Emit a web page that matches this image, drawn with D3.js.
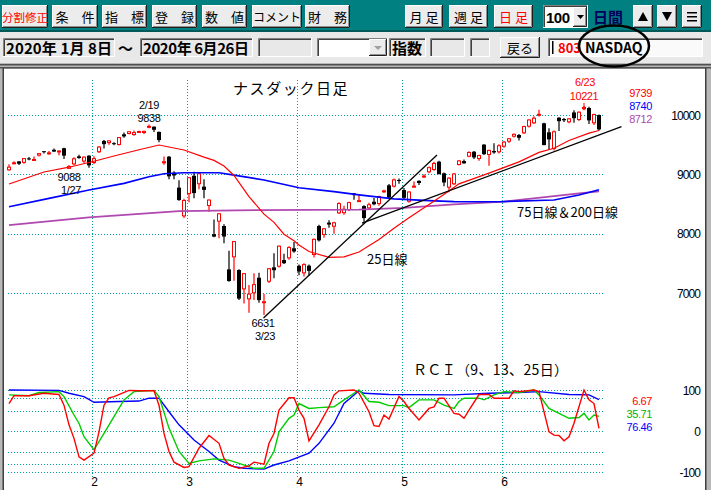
<!DOCTYPE html>
<html>
<head>
<meta charset="utf-8">
<script src="https://cdn.jsdelivr.net/npm/d3@7/dist/d3.min.js"></script>
<style>
  body { margin: 0; background: #fff; }
  svg { display: block; }
</style>
</head>
<body>
<div id="chart"></div>
<script>
// ---- data ----
const dates = [
  '1/8','1/9','1/10','1/13','1/14','1/15','1/16','1/17','1/21','1/22','1/23','1/24','1/27','1/28','1/29','1/30','1/31',
  '2/3','2/4','2/5','2/6','2/7','2/10','2/11','2/12','2/13','2/14','2/18','2/19','2/20','2/21','2/24','2/25','2/26','2/27','2/28',
  '3/2','3/3','3/4','3/5','3/6','3/9','3/10','3/11','3/12','3/13','3/16','3/17','3/18','3/19','3/20','3/23','3/24','3/25','3/26','3/27','3/30','3/31',
  '4/1','4/2','4/3','4/6','4/7','4/8','4/9','4/13','4/14','4/15','4/16','4/17','4/20','4/21','4/22','4/23','4/24','4/27','4/28','4/29','4/30',
  '5/1','5/4','5/5','5/6','5/7','5/8','5/11','5/12','5/13','5/14','5/15','5/18','5/19','5/20','5/21','5/22','5/26','5/27','5/28','5/29',
  '6/1','6/2','6/3','6/4','6/5','6/8','6/9','6/10','6/11','6/12','6/15','6/16','6/17','6/18','6/19','6/22','6/23','6/24','6/25','6/26'
];
const opens = [
  9068,9198,9218,9193,9269,9252,9315,9390,9360,9414,9390,9440,9092,9167,9303,9215,9315,
  9191,9372,9563,9526,9525,9494,9674,9680,9662,9726,9697,9787,9803,9715,9186,9297,9027,8776,8291,
  8667,8976,8833,8792,8466,7990,8202,8129,7398,7601,7387,7061,6893,6994,7258,6843,7190,7432,7443,7555,7584,7753,
  7459,7331,7460,7640,8130,7977,8186,8116,8342,8345,8398,8679,8545,8465,8427,8538,8499,8699,8815,8792,8904,
  8735,8538,8792,8890,8960,9034,9073,9213,9017,8775,8832,9157,9224,9297,9381,9258,9501,9326,9393,9371,
  9466,9550,9634,9663,9691,9803,9860,10005,9860,9708,9427,9955,9933,9877,10043,9916,10099,10118,9860,10000
];
const highs = [
  9168,9220,9219,9274,9292,9300,9357,9391,9395,9436,9403,9450,9159,9290,9329,9300,9323,
  9304,9478,9579,9573,9540,9628,9706,9726,9738,9735,9736,9838,9806,9722,9300,9310,9050,8900,8590,
  8952,9045,9019,8916,8574,8240,8350,8160,7712,7875,7400,7335,7134,7331,7341,6982,7420,7668,7800,7660,7790,7860,
  7480,7500,7480,7920,8150,8095,8227,8200,8530,8470,8540,8680,8670,8480,8520,8600,8640,8740,8835,8930,8930,
  8770,8712,8880,8900,9000,9130,9210,9230,9030,8950,9020,9240,9250,9390,9395,9330,9505,9415,9523,9505,
  9560,9610,9690,9680,9820,9930,9980,10087,9870,9776,9740,9960,9950,9950,10080,10060,10150,10140,10020,10010
];
const lows = [
  9059,9170,9156,9179,9236,9237,9302,9353,9330,9375,9320,9260,9088,9155,9264,9190,9112,
  9174,9359,9437,9499,9492,9487,9618,9675,9652,9695,9679,9776,9713,9539,9160,8916,8916,8555,8264,
  8530,8596,8748,8596,8370,7940,7921,7837,7190,7206,6880,6825,6667,6881,6835,6631,7170,7247,7430,7490,7560,7680,
  7300,7280,7290,7600,7870,7930,8100,8000,8330,8320,8380,8570,8540,8200,8410,8480,8470,8690,8590,8780,8840,
  8580,8520,8780,8820,8940,9020,9060,9000,8800,8700,8820,9150,9180,9290,9260,9230,9326,9144,9345,9350,
  9450,9530,9620,9570,9680,9790,9850,9975,9490,9410,9400,9730,9880,9860,9870,9900,10080,9850,9830,9735
];
const closes = [
  9129,9203,9179,9274,9251,9259,9357,9389,9371,9384,9402,9315,9139,9270,9275,9299,9151,
  9273,9468,9509,9572,9520,9628,9639,9726,9712,9731,9733,9817,9751,9577,9221,8966,8981,8566,8567,
  8952,8684,9018,8738,8575,7951,8344,7952,7202,7875,6905,7335,6990,7150,6880,6861,7418,7384,7798,7502,7774,7700,
  7361,7487,7373,7913,7887,8091,8154,8192,8516,8420,8532,8650,8565,8263,8495,8495,8635,8730,8608,8915,8890,
  8605,8711,8809,8854,8980,9121,9192,9003,8863,8944,9015,9235,9185,9376,9285,9325,9340,9412,9369,9490,
  9552,9608,9683,9616,9814,9925,9954,10020,9493,9589,9726,9896,9911,9943,9946,10056,10131,9909,10017,9757
];

// moving averages [day index, value]
const ma25 = [[0,8837],[7,9040],[12,9120],[17,9220],[21,9309],[26,9415],[30,9494],[35,9410],[39,9290],[41,9235],
  [43,9140],[45,8980],[48,8625],[51,8330],[53,8190],[55,7990],[57,7880],[58,7810],[60,7700],[64,7600],[67,7610],
  [70,7690],[74,7900],[77,8090],[80,8270],[84,8490],[88,8720],[90,8840],[96,9020],[102,9210],[106,9370],[109,9440],
  [112,9570],[116,9695],[118,9739]];
const ma75 = [[0,8454],[8,8596],[16,8736],[23,8848],[28,8960],[31,9010],[35,9027],[42,9027],[45,8988],[51,8904],
  [58,8774],[65,8707],[70,8655],[77,8585],[84,8556],[89,8540],[98,8538],[109,8567],[114,8651],[118,8740]];
const ma200 = [[0,8145],[16,8275],[34,8381],[50,8398],[70,8405],[79,8435],[89,8494],[99,8540],[109,8634],[114,8680],[118,8712]];

// hand-drawn trend lines [[day, price], [day, price]]
const trendLines = [[[50.9, 6577], [85.6, 9326]], [[70.6, 8179], [122.5, 9803]]];

// RCI (9, 13, 25 days) [day index, value]
const rci9 = [[0,67],[1,86],[4,86],[7,92],[10,89],[11,63],[12,15],[13,-18],[14,-63],[15,-71],[17,-54],[18,-2],[19,63],
  [20,81],[21,84],[24,99],[26,98],[29,98],[30,63],[31,-6],[32,-50],[33,-76],[35,-89],[36,-87],[38,-42],[40,-11],
  [42,-30],[43,-67],[44,-83],[46,-91],[48,-85],[49,-76],[51,-81],[52,-30],[53,-6],[54,51],[56,81],[57,81],[58,51],
  [59,31],[60,-24],[62,15],[64,59],[65,88],[66,98],[69,100],[70,92],[72,47],[73,13],[74,11],[75,39],[76,29],[78,84],
  [79,72],[80,55],[82,27],[84,55],[85,59],[86,80],[87,80],[89,43],[90,41],[91,31],[92,51],[94,89],[96,89],[97,80],
  [100,80],[101,98],[102,96],[105,100],[106,96],[108,-2],[109,-10],[110,-11],[111,-24],[112,-14],[113,19],[115,100],
  [116,76],[117,67],[118,6.67]];
const rci13 = [[0,88],[4,86],[6,94],[10,96],[11,84],[13,39],[14,19],[15,-14],[17,-46],[19,-6],[21,35],[23,76],[25,96],
  [29,99],[30,84],[32,7],[34,-50],[36,-79],[38,-73],[41,-68],[44,-71],[46,-79],[49,-91],[51,-91],[53,-50],[54,-2],
  [56,31],[57,39],[58,67],[60,55],[62,57],[65,59],[67,76],[69,92],[70,100],[72,72],[74,70],[76,62],[79,62],[80,57],
  [82,76],[85,76],[87,63],[89,55],[90,72],[91,80],[94,80],[95,76],[97,88],[99,96],[102,94],[105,100],[106,88],
  [108,55],[112,31],[114,33],[115,43],[116,27],[117,39],[118,35.71]];
const rci25 = [[0,100],[10,99],[12,92],[15,84],[17,70],[22,72],[26,73],[28,80],[30,80],[32,47],[34,15],[37,-22],
  [40,-50],[42,-71],[45,-87],[47,-91],[51,-93],[53,-83],[56,-73],[60,-54],[62,-30],[65,19],[67,67],[70,98],[71,92],
  [76,89],[89,88],[96,92],[102,94],[106,96],[112,89],[116,88],[118,76.46]];

const priceTicks = [7000, 8000, 9000, 10000];
const rciTicks = [100, 0, -100];
const rciGrid = [100, 80, 50, 0, -50, -80, -100];

const W = 711, H = 490;
const FONT = '"Noto Sans CJK JP", "Noto Sans", sans-serif';
const NUM = '"Liberation Sans", Arimo, sans-serif';
const TEAL = '#00a0a0';

const svg = d3.select('#chart').append('svg')
  .attr('width', W).attr('height', H)
  .style('font-family', FONT);

// ---- window chrome ----
svg.append('rect').attr('width', W).attr('height', H).attr('fill', '#e6e6e6');
svg.append('rect').attr('width', W).attr('height', 32).attr('fill', '#008080');
svg.append('rect').attr('y', 30).attr('width', W).attr('height', 2).attr('fill', '#005858');

const bevel = (g, x0, y0, x1, y1, sunken) => {
  g.append('path').attr('d', `M${x0 + 0.5},${y1} V${y0 + 0.5} H${x1}`)
    .attr('fill', 'none').attr('stroke', sunken ? '#808080' : '#ffffff');
  g.append('path').attr('d', `M${x0},${y1 - 0.5} H${x1 - 0.5} V${y0}`)
    .attr('fill', 'none').attr('stroke', sunken ? '#ffffff' : '#202020');
  g.append('path').attr('d', sunken ? `M${x0 + 1.5},${y1 - 1} V${y0 + 1.5} H${x1 - 1}` : `M${x0 + 1},${y1 - 1.5} H${x1 - 1.5} V${y0 + 1}`)
    .attr('fill', 'none').attr('stroke', sunken ? '#404040' : '#909090');
};

const button = (x0, x1, y0, y1, label, color, size) => {
  const g = svg.append('g');
  g.append('rect').attr('x', x0).attr('y', y0).attr('width', x1 - x0).attr('height', y1 - y0).attr('fill', '#ececec');
  bevel(g, x0, y0, x1, y1, false);
  if (label) {
    g.append('text').attr('x', (x0 + x1) / 2).attr('y', (y0 + y1) / 2 + 5)
      .attr('text-anchor', 'middle').attr('font-size', size || 13)
      .attr('fill', color || '#000').text(label);
  }
  return g;
};

button(2, 48, 5, 28, '分割修正', '#ff0000', 11.5);
button(52, 98, 5, 28, '条　件');
button(102, 147, 5, 28, '指　標');
button(152, 197, 5, 28, '登　録');
button(202, 247, 5, 28, '数　値');
button(252, 302, 5, 28, 'コメント', '#000', 12);
button(305, 350, 5, 28, '財　務');
button(405, 443, 5, 28, '月 足');
button(449, 488, 5, 28, '週 足');
button(494, 533, 5, 28, '日 足', '#ff0000');

// period combo
svg.append('rect').attr('x', 543).attr('y', 5).attr('width', 45).attr('height', 23).attr('fill', '#fff');
bevel(svg.append('g'), 543, 5, 588, 28, true);
svg.append('text').attr('x', 546).attr('y', 23).attr('font-family', NUM).attr('font-size', 15)
  .attr('font-weight', 'bold').attr('letter-spacing', '-0.5px').text('100');
const dd = button(573, 587, 7, 27);
dd.append('path').attr('d', 'M577,15 h7 l-3.5,4 z').attr('fill', '#000');
svg.append('text').attr('x', 593).attr('y', 23).attr('font-size', 15).attr('font-weight', 'bold')
  .attr('fill', '#00005a').text('日間');
const up = button(633, 653, 5, 28);
up.append('path').attr('d', 'M638,21 h10 l-5,-9 z').attr('fill', '#000');
const dn = button(657, 677, 5, 28);
dn.append('path').attr('d', 'M662,12 h10 l-5,9 z').attr('fill', '#000');
const mn = button(682, 702, 5, 28);
[12, 16, 20].forEach(y => mn.append('rect').attr('x', 687).attr('y', y).attr('width', 10).attr('height', 1.5).attr('fill', '#000'));

// second row
svg.append('rect').attr('y', 32).attr('width', W).attr('height', 31).attr('fill', '#e8e8e8');
const box = (x0, x1, fill) => {
  const g = svg.append('g');
  g.append('rect').attr('x', x0).attr('y', 38).attr('width', x1 - x0).attr('height', 19).attr('fill', fill || '#e8e8e8');
  bevel(g, x0, 38, x1, 57, true);
  return g;
};
box(3, 115).append('text').attr('x', 6).attr('y', 54).attr('font-size', 15).attr('font-weight', 'bold')
  .attr('textLength', 106).attr('lengthAdjust', 'spacing').text('2020年 1月 8日');
svg.append('text').attr('x', 118).attr('y', 54).attr('font-size', 15).attr('font-weight', 'bold').text('～');
box(140, 253).append('text').attr('x', 143).attr('y', 54).attr('font-size', 15).attr('font-weight', 'bold')
  .attr('textLength', 106).attr('lengthAdjust', 'spacing').text('2020年 6月26日');
box(258, 312);
box(317, 388, '#fff');
const cb = button(369, 387, 39, 56);
cb.append('path').attr('d', 'M374,46 h8 l-4,4 z').attr('fill', '#a0a0a0');
box(389, 426).append('text').attr('x', 392).attr('y', 54).attr('font-size', 15).attr('font-weight', 'bold').text('指数');
box(430, 465);
box(470, 490);
button(500, 540, 37, 58, '戻る');
const nb = box(548, 703, '#fafafa');
nb.append('rect').attr('x', 552).attr('y', 41).attr('width', 1.5).attr('height', 13).attr('fill', '#000');
nb.append('text').attr('x', 558).attr('y', 53).attr('font-size', 13).attr('font-weight', 'bold')
  .attr('fill', '#ff0000').text('803');
nb.append('text').attr('x', 585).attr('y', 53).attr('font-size', 14).attr('font-weight', 'bold')
  .attr('fill', '#000').text('NASDAQ');

// chart frame
svg.append('rect').attr('x', 0).attr('y', 63).attr('width', W).attr('height', H - 63).attr('fill', '#b8b8b8');
svg.append('rect').attr('x', 0).attr('y', 64).attr('width', W).attr('height', 1.5).attr('fill', '#505050');
svg.append('rect').attr('x', 0).attr('y', 67).attr('width', W).attr('height', 1.5).attr('fill', '#505050');
svg.append('rect').attr('x', 4).attr('y', 69).attr('width', 701).attr('height', H - 69).attr('fill', '#fff');
svg.append('rect').attr('x', 2.5).attr('y', 68).attr('width', 1.5).attr('height', H - 68).attr('fill', '#404040');
svg.append('rect').attr('x', 705).attr('y', 68).attr('width', 1.5).attr('height', H - 68).attr('fill', '#404040');

// ---- scales ----
const x = d3.scaleBand().domain(dates).range([7, 602]);
const xc = d3.scaleLinear().domain([0, dates.length - 1]).range([x(dates[0]) + 2, x(dates[dates.length - 1]) + 2]);
const yP = d3.scaleLinear().domain([7000, 10000]).range([293, 115]);
const yR = d3.scaleLinear().domain([-100, 100]).range([472, 390]);

const plot = svg.append('g');

// grid
const dotted = sel => sel.attr('stroke', TEAL).attr('stroke-width', 1).attr('stroke-dasharray', '1,2');
const monthStarts = dates.filter((d, i) => i > 0 && d.split('/')[0] !== dates[i - 1].split('/')[0]);

plot.selectAll('.vgrid').data(monthStarts).join('line').attr('class', 'vgrid')
  .attr('x1', d => x(d) + 0.5).attr('x2', d => x(d) + 0.5).attr('y1', 80).attr('y2', 479).call(dotted);
plot.selectAll('.pgrid').data(priceTicks).join('line').attr('class', 'pgrid')
  .attr('x1', 8).attr('x2', 604).attr('y1', d => Math.round(yP(d)) + 0.5).attr('y2', d => Math.round(yP(d)) + 0.5).call(dotted);
plot.selectAll('.rgrid').data(rciGrid).join('line').attr('class', 'rgrid')
  .attr('x1', 8).attr('x2', 604).attr('y1', d => Math.round(yR(d)) + 0.5).attr('y2', d => Math.round(yR(d)) + 0.5).call(dotted);

// candles
const candles = dates.map((d, i) => ({ d, o: opens[i], h: highs[i], l: lows[i], c: closes[i] }));
const rising = c => c.c >= c.o;
const cg = plot.append('g');
cg.selectAll('.wick').data(candles).join('line').attr('class', 'wick')
  .attr('x1', c => x(c.d) + 2).attr('x2', c => x(c.d) + 2)
  .attr('y1', c => yP(c.h)).attr('y2', c => yP(c.l))
  .attr('stroke', c => rising(c) ? '#ff0000' : '#000').attr('stroke-width', 1.2);
cg.selectAll('.body').data(candles).join('rect').attr('class', 'body')
  .attr('x', c => x(c.d) + (rising(c) ? 0.5 : 0))
  .attr('width', c => rising(c) ? 3 : 4)
  .attr('y', c => yP(Math.max(c.o, c.c)) + (rising(c) ? 0.5 : 0))
  .attr('height', c => Math.max(1, Math.abs(yP(c.o) - yP(c.c)) - (rising(c) ? 1 : 0)))
  .attr('fill', c => rising(c) ? '#fff' : '#000')
  .attr('stroke', c => rising(c) ? '#ff0000' : 'none').attr('stroke-width', 1);

// moving averages
const maLine = d3.line().x(p => xc(p[0])).y(p => yP(p[1]));
[[ma200, '#b048b0', 1.8], [ma75, '#0000ff', 1.7], [ma25, '#ff0000', 1.2]].forEach(([s, col, w]) => {
  plot.append('path').datum(s).attr('d', maLine).attr('fill', 'none').attr('stroke', col).attr('stroke-width', w);
});

// trend lines
plot.selectAll('.trend').data(trendLines).join('line').attr('class', 'trend')
  .attr('x1', t => xc(t[0][0])).attr('y1', t => yP(t[0][1]))
  .attr('x2', t => xc(t[1][0])).attr('y2', t => yP(t[1][1]))
  .attr('stroke', '#000').attr('stroke-width', 1.3);

// RCI
const rLine = d3.line().x(p => xc(p[0])).y(p => yR(p[1]));
[[rci25, '#0000ff'], [rci13, '#00cc00'], [rci9, '#ff0000']].forEach(([s, col]) => {
  plot.append('path').datum(s).attr('d', rLine).attr('fill', 'none').attr('stroke', col).attr('stroke-width', 1.4);
});

// axes
const priceAxis = svg.append('g').attr('transform', 'translate(700,0)')
  .call(d3.axisRight(yP).tickValues(priceTicks).tickSize(0).tickPadding(0).tickFormat(d => String(d)));
const rciAxis = svg.append('g').attr('transform', 'translate(700,0)')
  .call(d3.axisRight(yR).tickValues(rciTicks).tickSize(0).tickPadding(0).tickFormat(d => String(d)));
[priceAxis, rciAxis].forEach(a => {
  a.select('.domain').remove();
  a.selectAll('text').attr('text-anchor', 'end').attr('x', 0).attr('dy', '0.36em')
    .attr('font-family', NUM).attr('font-size', 12).attr('letter-spacing', '-0.9px').attr('fill', '#000');
});
const monthAxis = svg.append('g').attr('transform', 'translate(0,477)')
  .call(d3.axisBottom(x).tickValues(monthStarts).tickSize(0).tickPadding(0).tickFormat(d => d.split('/')[0]));
monthAxis.select('.domain').remove();
monthAxis.selectAll('text').attr('font-family', NUM).attr('font-size', 12).attr('fill', '#000').attr('dy', '0.71em');

// ---- text annotations ----
const note = (tx, ty, s, col, anchor) => svg.append('text').attr('x', tx).attr('y', ty)
  .attr('text-anchor', anchor || 'middle').attr('font-family', NUM).attr('font-size', 11)
  .attr('letter-spacing', '-0.4px').attr('fill', col || '#000').text(s);

svg.append('text').attr('x', 233).attr('y', 94).attr('font-size', 15).attr('letter-spacing', '1.6px').text('ナスダック日足');

const iHigh = dates.indexOf('2/19');
note(xc(iHigh), yP(9838) - 16, '2/19');
note(xc(iHigh), yP(9838) - 3, '9838');
const iJan = dates.indexOf('1/27');
note(xc(iJan), yP(9088) + 12, '9088');
note(xc(iJan) + 2, yP(9088) + 25, '1/27');
const iLow = dates.indexOf('3/23');
note(xc(iLow) - 1, yP(6631) + 12, '6631');
note(xc(iLow) + 1, yP(6631) + 25, '3/23');
const iTop = dates.indexOf('6/23');
note(xc(iTop) + 1, yP(10221) - 16, '6/23', '#ff0000');
note(xc(iTop), yP(10221) - 2, '10221', '#ff0000');
svg.append('path').attr('d', `M${xc(iTop)},${yP(10221) + 1} v6 M${xc(iTop) - 2},${yP(10221) + 5} l2,2.5 l2,-2.5`)
  .attr('stroke', '#ff0000').attr('fill', 'none');

note(652, 97, String(ma25[ma25.length - 1][1]), '#ff0000', 'end');
note(652, 110, String(ma75[ma75.length - 1][1]), '#0000ff', 'end');
note(652, 123, String(ma200[ma200.length - 1][1]), '#b048b0', 'end');

svg.append('text').attr('x', 367).attr('y', 264).attr('font-size', 13).text('25日線');
svg.append('text').attr('x', 517).attr('y', 217).attr('font-size', 13).text('75日線＆200日線');

svg.append('text').attr('x', 413).attr('y', 375).attr('font-size', 14)
  .attr('textLength', 155).attr('lengthAdjust', 'spacing').text('ＲＣＩ（9、13、25日）');
note(652, 405, rci9[rci9.length - 1][1].toFixed(2), '#ff0000', 'end');
note(652, 418, rci13[rci13.length - 1][1].toFixed(2), '#00b000', 'end');
note(652, 431, rci25[rci25.length - 1][1].toFixed(2), '#0000ff', 'end');

// hand-drawn ellipse around the symbol
svg.append('ellipse').attr('cx', 614).attr('cy', 46).attr('rx', 35).attr('ry', 20.5)
  .attr('fill', 'none').attr('stroke', '#000').attr('stroke-width', 2.5);
</script>
</body>
</html>
